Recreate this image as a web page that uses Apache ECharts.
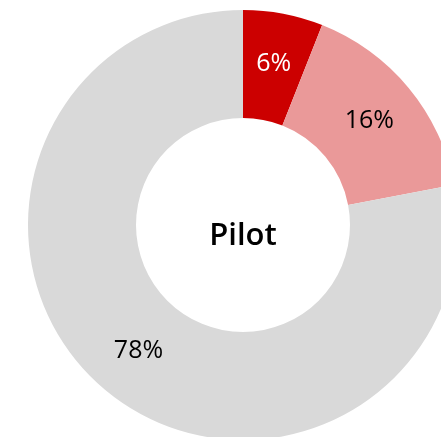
<!DOCTYPE html>
<html>
<head>
<meta charset="utf-8">
<script src="https://cdn.jsdelivr.net/npm/echarts@6/dist/echarts.min.js"></script>
<style>
html,body{margin:0;padding:0;background:#fff;}
#chart{width:441px;height:437px;}
</style>
</head>
<body>
<div id="chart"></div>
<script>
const categories = ['Segment A', 'Segment B', 'Segment C'];
const values = [6, 16, 78];
const colors = ['#cc0000', '#ea9999', '#d9d9d9'];
const labelColors = ['#ffffff', '#000000', '#000000'];
const centerTitle = 'Pilot';

const chart = echarts.init(document.getElementById('chart'), null, {renderer: 'canvas'});
chart.setOption({
  animation: false,
  backgroundColor: '#ffffff',
  series: [{
    type: 'pie',
    center: [243, 225],
    radius: [107, 215],
    startAngle: 90,
    clockwise: true,
    avoidLabelOverlap: false,
    silent: true,
    itemStyle: {borderWidth: 0},
    label: {
      show: true,
      position: 'inside',
      formatter: '{c}%',
      fontFamily: 'Open Sans',
      fontSize: 25
    },
    labelLine: {show: false},
    data: categories.map((n, i) => ({
      name: n,
      value: values[i],
      itemStyle: {color: colors[i]},
      label: {color: labelColors[i]}
    }))
  }],
  graphic: [{
    type: 'text',
    x: 243,
    y: 236,
    style: {
      text: centerTitle,
      align: 'center',
      verticalAlign: 'middle',
      fontFamily: 'Open Sans',
      fontWeight: 600,
      fontSize: 31,
      fill: '#000000'
    }
  }]
});
</script>
</body>
</html>
